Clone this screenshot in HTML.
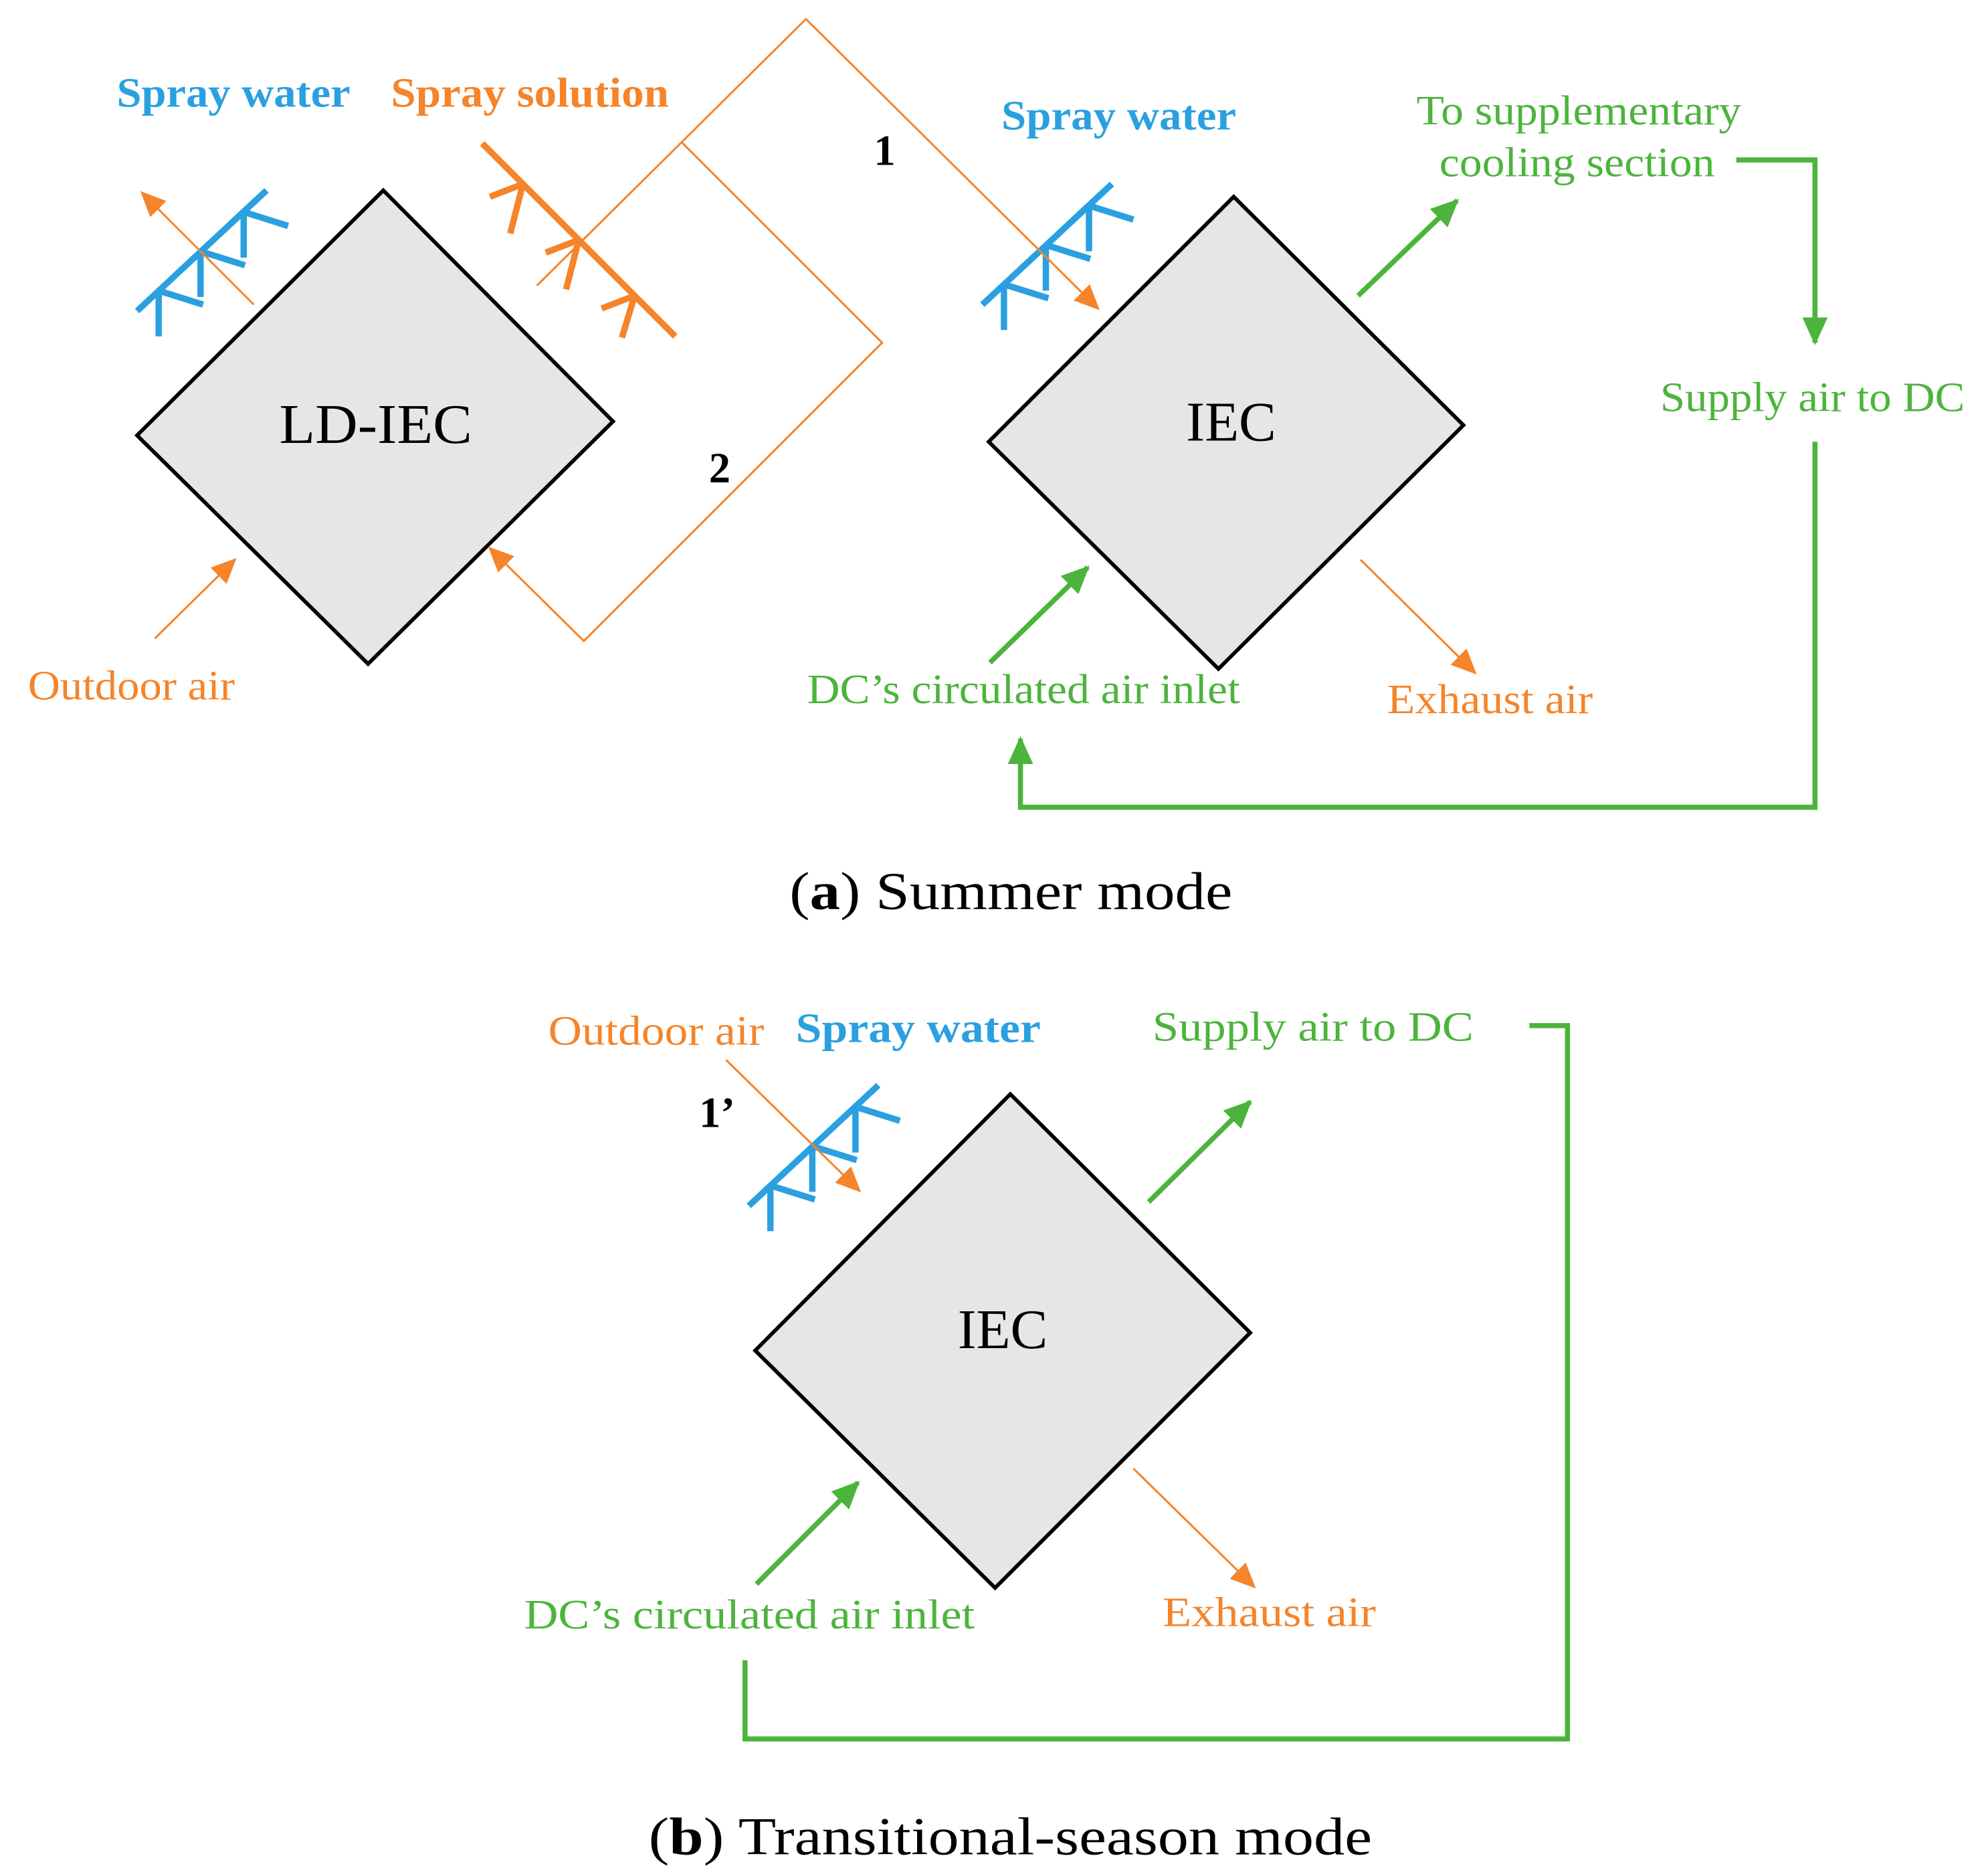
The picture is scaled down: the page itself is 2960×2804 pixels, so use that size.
<!DOCTYPE html>
<html><head><meta charset="utf-8"><style>
html,body{margin:0;padding:0;background:#fff;}
svg{display:block;}
text{font-family:"Liberation Serif",serif;}
</style></head><body>
<svg width="2960" height="2804" viewBox="0 0 1560 1478" preserveAspectRatio="none" xmlns="http://www.w3.org/2000/svg">
<defs>
<marker id="aoL" markerWidth="20" markerHeight="18" refX="18" refY="9" orient="auto" markerUnits="userSpaceOnUse" viewBox="0 0 20 18"><path d="M0,0 L20,9 L0,18 z" fill="#f5842a"/></marker>
<marker id="ag" markerWidth="22" markerHeight="20" refX="20" refY="10" orient="auto" markerUnits="userSpaceOnUse" viewBox="0 0 22 20"><path d="M0,0 L22,10 L0,20 z" fill="#4cb43c"/></marker>
</defs>
<g fill="#e6e6e6" stroke="#000" stroke-width="3">
<polygon points="302,150 483,332 290,523 108,343"/>
<polygon points="972,155 1153,335 960,527 779,348"/>
<polygon points="796,862 985,1050 784,1251 595,1064"/>
</g>
<g font-size="44" text-anchor="middle" fill="#000">
<text x="296" y="349" textLength="152" lengthAdjust="spacingAndGlyphs">LD-IEC</text>
<text x="970" y="347">IEC</text>
<text x="790" y="1062">IEC</text>
</g>
<g stroke="#2aa0e0" stroke-width="5" fill="none">
<path d="M108,245 L210,150"/>
<path d="M125,229 L125,265 M125,229 L160,240"/>
<path d="M158,198 L158,234 M158,198 L193,209"/>
<path d="M192,167 L192,203 M192,167 L227,178"/>
<path d="M774,240 L876,145"/>
<path d="M791,224 L791,260 M791,224 L826,235"/>
<path d="M824,193 L824,229 M824,193 L859,204"/>
<path d="M858,162 L858,198 M858,162 L893,173"/>
<path d="M590,950 L692,855"/>
<path d="M607,934 L607,970 M607,934 L642,945"/>
<path d="M640,903 L640,939 M640,903 L675,914"/>
<path d="M674,872 L674,908 M674,872 L709,883"/>
</g>
<g stroke="#f5842a" stroke-width="5" fill="none">
<path d="M380,113 L532,265"/>
<path d="M412,145 L386,155 M412,145 L402,184"/>
<path d="M456,189 L430,199 M456,189 L446,228"/>
<path d="M500,233 L474,243 M500,233 L490,266"/>
</g>
<g stroke="#f5842a" stroke-width="1.6" fill="none">
<path d="M423,225 L635,15 L865,243" marker-end="url(#aoL)"/>
<path d="M537,112 L695,270 L460,505 L386,432" marker-end="url(#aoL)"/>
<path d="M200,240 L112,152" marker-end="url(#aoL)"/>
<path d="M122,503 L185,441" marker-end="url(#aoL)"/>
<path d="M1072,441 L1162,530" marker-end="url(#aoL)"/>
<path d="M572,835 L677,938" marker-end="url(#aoL)"/>
<path d="M893,1157 L988,1250" marker-end="url(#aoL)"/>
</g>
<g stroke="#4cb43c" stroke-width="4" fill="none">
<path d="M1070,233 L1148,158" marker-end="url(#ag)"/>
<path d="M1368,126 L1430,126 L1430,270" marker-end="url(#ag)"/>
<path d="M1430,348 L1430,636 L804,636 L804,582" marker-end="url(#ag)"/>
<path d="M780,522 L857,447" marker-end="url(#ag)"/>
<path d="M905,947 L985,868" marker-end="url(#ag)"/>
<path d="M1205,808 L1235,808 L1235,1370 L587,1370 L587,1308"/>
<path d="M596,1248 L676,1168" marker-end="url(#ag)"/>
</g>
<g font-size="33" font-weight="bold" fill="#2aa0e0" lengthAdjust="spacingAndGlyphs">
<text x="92" y="84" textLength="184" lengthAdjust="spacingAndGlyphs">Spray water</text>
<text x="789" y="102" textLength="185" lengthAdjust="spacingAndGlyphs">Spray water</text>
<text x="627" y="821" textLength="193" lengthAdjust="spacingAndGlyphs">Spray water</text>
</g>
<text x="308" y="84" font-size="33" font-weight="bold" fill="#f5842a" textLength="219" lengthAdjust="spacingAndGlyphs">Spray solution</text>
<g font-size="33" fill="#f5842a">
<text x="22" y="551" textLength="163" lengthAdjust="spacingAndGlyphs">Outdoor air</text>
<text x="1093" y="562" textLength="162" lengthAdjust="spacingAndGlyphs">Exhaust air</text>
<text x="432" y="823" textLength="170" lengthAdjust="spacingAndGlyphs">Outdoor air</text>
<text x="916" y="1281" textLength="168" lengthAdjust="spacingAndGlyphs">Exhaust air</text>
</g>
<g font-size="33" fill="#4cb43c">
<text x="1116" y="98" textLength="256" lengthAdjust="spacingAndGlyphs">To supplementary</text>
<text x="1134" y="139" textLength="217" lengthAdjust="spacingAndGlyphs">cooling section</text>
<text x="1308" y="324" textLength="240" lengthAdjust="spacingAndGlyphs">Supply air to DC</text>
<text x="636" y="554" textLength="341" lengthAdjust="spacingAndGlyphs">DC’s circulated air inlet</text>
<text x="908" y="820" textLength="253" lengthAdjust="spacingAndGlyphs">Supply air to DC</text>
<text x="413" y="1283" textLength="355" lengthAdjust="spacingAndGlyphs">DC’s circulated air inlet</text>
</g>
<g font-size="34" font-weight="bold" fill="#000" text-anchor="middle">
<text x="697" y="130">1</text>
<text x="567" y="380">2</text>
<text x="565" y="888">1’</text>
</g>
<g font-size="42" fill="#000">
<text x="622" y="716" textLength="349" lengthAdjust="spacingAndGlyphs">(<tspan font-weight="bold">a</tspan>) Summer mode</text>
<text x="511" y="1461" textLength="570" lengthAdjust="spacingAndGlyphs">(<tspan font-weight="bold">b</tspan>) Transitional-season mode</text>
</g>
</svg>
</body></html>
